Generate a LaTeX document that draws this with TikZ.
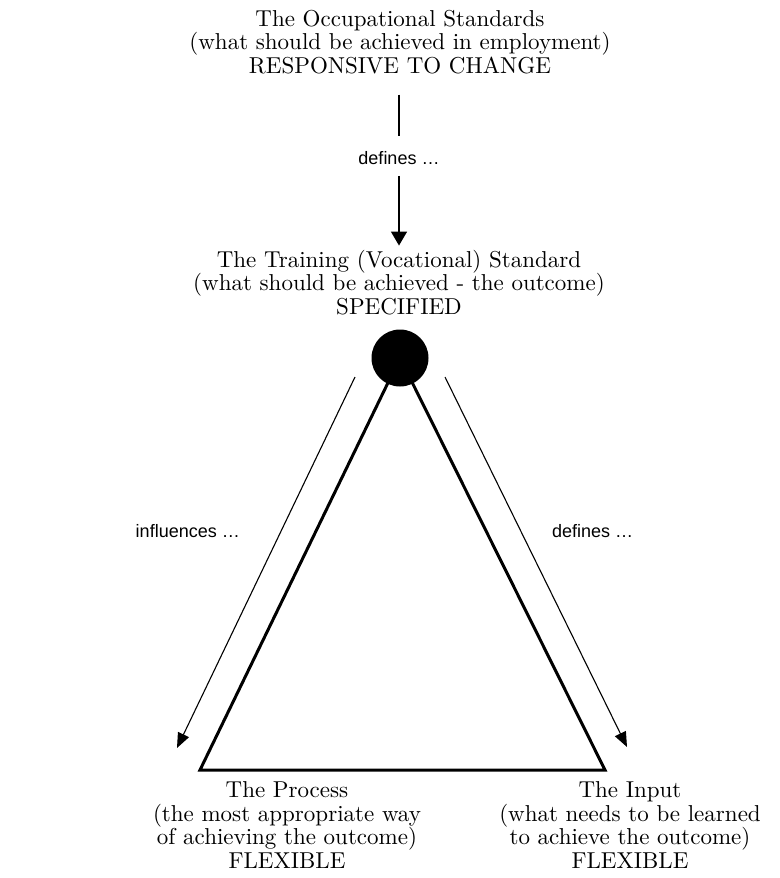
\documentclass[tikz,border=0pt]{standalone}
\usepackage{fontspec}
\newfontfamily\labelfont{Liberation Sans}
\newfontfamily\trfont{lmroman10-regular.otf}
\usetikzlibrary{arrows.meta}
\begin{document}
\begin{tikzpicture}[x=1pt,y=-1pt,
  main/.style={align=center, inner sep=0pt, font=\trfont\fontsize{23}{23.5}\selectfont},
  lbl/.style={inner sep=0pt, font=\labelfont\fontsize{18}{20}\selectfont},
  edge/.style={line width=3pt, line join=miter},
  thinarrow/.style={line width=1.1pt, -{Triangle[length=15pt,width=12pt]}},
  toparrow/.style={line width=1.6pt},
]
\useasboundingbox (0,0) rectangle (779,878);

% texts (base anchor = baseline of last line)
\node[main, anchor=base] (occ) at (400,73)
  {The Occupational Standards\\(what should be achieved in employment)\\RESPONSIVE TO CHANGE};
\node[lbl] (def0) at (399,158) {defines …};
\node[main, anchor=base] (train) at (399,314)
  {The Training (Vocational) Standard\\(what should be achieved - the outcome)\\SPECIFIED};

% top connector
\draw[toparrow, shorten <=21pt, shorten >=15pt] (def0.north |- occ.south) -- (def0.north);
\draw[toparrow, shorten <=11pt, shorten >=4pt, -{Triangle[length=14pt,width=16pt]}] (def0.south) -- (def0.south |- train.north);

% triangle
\coordinate (apex) at (400,358);
\coordinate (pl) at (200,770);
\coordinate (pr) at (605,770);
\draw[edge] (apex) -- (pl) -- (pr) -- cycle;
\node[circle, fill=black, inner sep=0pt, minimum size=57pt] (dot) at (apex) {};

% thin side arrows
\coordinate (la1) at (355,377);
\coordinate (la2) at (177,748);
\coordinate (ra1) at (445,377);
\coordinate (ra2) at (627,747);
\draw[thinarrow] (la1) -- (la2);
\draw[thinarrow] (ra1) -- (ra2);

\node[lbl, anchor=base east] (infl) at (240,537) {influences …};
\node[lbl, anchor=base west] (defr) at (552,537) {defines …};

% bottom texts
\node[main, anchor=base] (proc) at (287,868)
  {The Process\\(the most appropriate way\\of achieving the outcome)\\FLEXIBLE};
\node[main, anchor=base] (inp) at (630,868)
  {The Input\\(what needs to be learned\\to achieve the outcome)\\FLEXIBLE};
\end{tikzpicture}
\end{document}
